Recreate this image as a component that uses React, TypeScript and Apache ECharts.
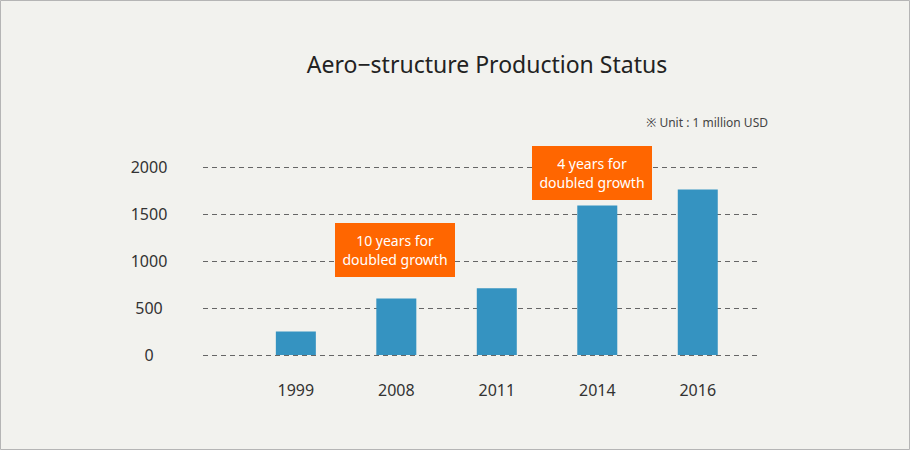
import React, { useEffect, useRef } from "react";
import * as echarts from "echarts";

const categories = ["1999", "2008", "2011", "2014", "2016"];
const values = [250, 600, 710, 1590, 1760];
const yTicks = { min: 0, max: 2000, interval: 500 };
const titleText = "Aero−structure Production Status";
const unitText = "※ Unit : 1 million USD";
const notes = [
  { lines: ["10 years for", "doubled growth"], x: 335, y: 223 },
  { lines: ["4 years for", "doubled growth"], x: 532, y: 146 },
];

export default function App() {
  const ref = useRef<HTMLDivElement>(null);
  useEffect(() => {
    document.body.style.margin = "0";
    const chart = echarts.init(ref.current!, null, { renderer: "svg" });
    const font = "'Noto Sans', 'Noto Sans CJK KR', sans-serif";
    const graphics: any[] = [
      {
        type: "rect",
        shape: { x: 0.5, y: 0.5, width: 909, height: 449 },
        style: { fill: "none", stroke: "#b5b5b5", lineWidth: 1 },
        silent: true,
      },
      {
        type: "text",
        x: 487,
        y: 64,
        style: {
          text: titleText,
          fontFamily: font,
          fontSize: 23,
          fill: "#222",
          align: "center",
          verticalAlign: "middle",
        },
      },
      {
        type: "text",
        x: 768,
        y: 122,
        style: {
          text: unitText,
          fontFamily: font,
          fontSize: 12,
          fill: "#444",
          align: "right",
          verticalAlign: "middle",
        },
      },
    ];
    notes.forEach((n) => {
      graphics.push({
        type: "rect",
        z: 100,
        shape: { x: n.x, y: n.y, width: 120, height: 54 },
        style: { fill: "#ff6600" },
      });
      n.lines.forEach((line, i) => {
        graphics.push({
          type: "text",
          z: 101,
          x: n.x + 60,
          y: n.y + 17.4 + i * 19.3,
          style: {
            text: line,
            fontFamily: font,
            fontSize: 14,
            fill: "#ffffff",
            align: "center",
            verticalAlign: "middle",
          },
        });
      });
    });
    chart.setOption({
      animation: false,
      backgroundColor: "#f2f2ee",
      textStyle: { fontFamily: font },
      grid: [
        { left: 203, right: 153, top: 167, bottom: 95 },
        { left: 245.6, right: 162, top: 167, bottom: 95 },
      ],
      xAxis: [
        { type: "value", gridIndex: 0, show: false, min: 0, max: 1 },
        {
          type: "category",
          gridIndex: 1,
          data: categories,
          axisLine: { show: false },
          axisTick: { show: false },
          axisLabel: { fontSize: 16, color: "#333", margin: 27 },
        },
      ],
      yAxis: [
        {
          type: "value",
          gridIndex: 0,
          ...yTicks,
          axisLine: { show: false },
          axisTick: { show: false },
          axisLabel: {
            fontSize: 16,
            color: "#333",
            align: "center",
            margin: 54,
            formatter: (v: number) => String(v),
          },
          splitLine: {
            show: true,
            lineStyle: { color: "#666", type: [5, 4], width: 1 },
          },
        },
        { type: "value", gridIndex: 1, ...yTicks, show: false, splitLine: { show: false } },
      ],
      series: [
        {
          type: "bar",
          xAxisIndex: 1,
          yAxisIndex: 1,
          data: values,
          barWidth: 40,
          itemStyle: { color: "#3593c1" },
        },
      ],
      graphic: graphics,
    });
    return () => chart.dispose();
  }, []);
  return <div ref={ref} style={{ width: 910, height: 450 }} />;
}
